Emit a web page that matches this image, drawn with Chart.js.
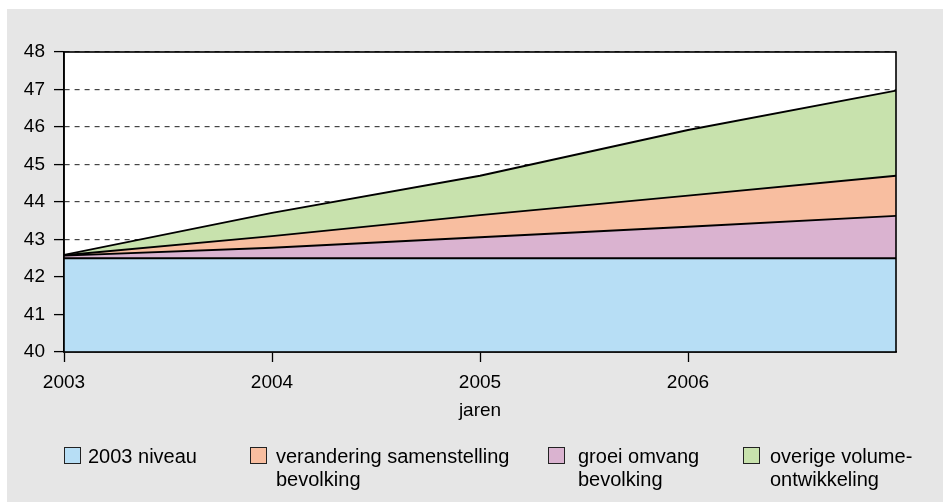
<!DOCTYPE html>
<html>
<head>
<meta charset="utf-8">
<script src="https://cdn.jsdelivr.net/npm/chart.js@4"></script>
<style>
  html, body { margin: 0; padding: 0; background: #fff; }
  #wrap { position: relative; width: 943px; height: 502px; overflow: hidden; }
  #bg { position: absolute; left: 7px; top: 9px; right: 0; bottom: 0; background: #e6e6e6; }
  #chart { position: absolute; left: 0; top: 0; }
  .item { position: absolute; top: 445px; font-family: "Liberation Sans", Arial, sans-serif; font-size: 20px; line-height: 23px; color: #000; }
  .box { position: absolute; top: 2px; width: 15px; height: 15px; border: 1px solid #222; }
  .txt { position: absolute; white-space: nowrap; }
</style>
</head>
<body>
<div id="wrap">
  <div id="bg"></div>
  <canvas id="chart" width="943" height="502"></canvas>
  <div id="legend"></div>
</div>
<script>
// years on the x axis (2007 is the end of the plot, not labelled)
const years = [2003, 2004, 2005, 2006, 2007];
const yTicks = [40, 41, 42, 43, 44, 45, 46, 47, 48];

// stacked series
const niveau2003 = [42.5, 42.5, 42.5, 42.5, 42.5];
const groeiOmvang = [0.07, 0.28, 0.56, 0.84, 1.13];
const samenstelling = [0.01, 0.31, 0.59, 0.83, 1.07];
const overigVolume = [0.01, 0.62, 1.05, 1.75, 2.27];

const colors = {
  niveau: '#b7def5',
  groei: '#dab3d0',
  samen: '#f8bea0',
  overig: '#c8e2ad'
};

// legend order differs from stacking order
const legendItems = [
  { color: colors.niveau, text: ['2003 niveau'], box: 64, label: 88 },
  { color: colors.samen, text: ['verandering samenstelling', 'bevolking'], box: 250, label: 276 },
  { color: colors.groei, text: ['groei omvang', 'bevolking'], box: 548, label: 578 },
  { color: colors.overig, text: ['overige volume-', 'ontwikkeling'], box: 743, label: 770 }
];

const toPoints = (arr) => arr.map((v, i) => ({ x: years[i], y: v }));

const frame = {
  id: 'frame',
  beforeDraw(chart) {
    const a = chart.chartArea, ctx = chart.ctx;
    ctx.save();
    ctx.fillStyle = '#fff';
    ctx.fillRect(a.left, a.top, a.right - a.left, a.bottom - a.top);
    ctx.restore();
  },
  afterDatasetsDraw(chart) {
    const a = chart.chartArea, ctx = chart.ctx;
    ctx.save();
    ctx.strokeStyle = '#000';
    ctx.lineWidth = 1.6;
    ctx.strokeRect(a.left, a.top, a.right - a.left, a.bottom - a.top);
    ctx.restore();
  }
};

const font = { family: '"Liberation Sans", Arial, sans-serif', size: 19 };

const ds = (label, data, color, fill) => ({
  label: label,
  data: toPoints(data),
  backgroundColor: color,
  borderColor: '#000',
  borderWidth: 1.8,
  pointRadius: 0,
  tension: 0,
  fill: fill
});

new Chart(document.getElementById('chart').getContext('2d'), {
  type: 'line',
  data: {
    datasets: [
      ds('2003 niveau', niveau2003, colors.niveau, 'start'),
      ds('groei omvang bevolking', groeiOmvang, colors.groei, '-1'),
      ds('verandering samenstelling bevolking', samenstelling, colors.samen, '-1'),
      ds('overige volume-ontwikkeling', overigVolume, colors.overig, '-1')
    ]
  },
  options: {
    responsive: false,
    animation: false,
    layout: { padding: { left: 0, top: 52, right: 47, bottom: 80 } },
    plugins: {
      legend: { display: false },
      tooltip: { enabled: false }
    },
    scales: {
      x: {
        type: 'linear',
        min: years[0],
        max: years[years.length - 1],
        afterBuildTicks: (scale) => {
          scale.ticks = years.slice(0, -1).map(v => ({ value: v }));
        },
        afterFit: (scale) => { scale.height = 70; },
        ticks: {
          font: font,
          color: '#000',
          padding: 9,
          maxRotation: 0,
          callback: (v) => String(v)
        },
        grid: { drawOnChartArea: false, tickLength: 10, tickColor: '#000', tickWidth: 1.3 },
        border: { color: '#000', width: 1.6 },
        title: { display: true, text: 'jaren', font: font, color: '#000', padding: { top: 0, bottom: 0 } }
      },
      y: {
        stacked: true,
        min: yTicks[0],
        max: yTicks[yTicks.length - 1],
        afterBuildTicks: (scale) => {
          scale.ticks = yTicks.map(v => ({ value: v }));
        },
        afterFit: (scale) => { scale.width = 64; },
        ticks: { font: font, color: '#000', padding: 9 },
        grid: { color: '#444', lineWidth: 1.2, tickLength: 10, tickColor: '#000', tickWidth: 1.3 },
        border: { color: '#000', width: 1.6, dash: [5, 5] }
      }
    }
  },
  plugins: [frame]
});

// html legend
const legend = document.getElementById('legend');
legendItems.forEach(it => {
  const box = document.createElement('div');
  box.className = 'item';
  box.innerHTML = '<div class="box" style="left:' + it.box + 'px;background:' + it.color + '"></div>' +
    '<div class="txt" style="left:' + it.label + 'px">' + it.text.join('<br>') + '</div>';
  legend.appendChild(box);
});
</script>
</body>
</html>
